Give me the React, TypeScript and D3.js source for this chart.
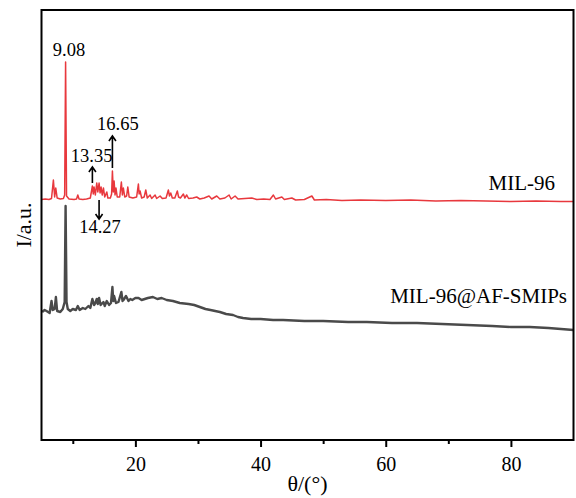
import React, { useRef, useEffect } from 'react'
import * as d3 from 'd3'

// MIL-96 pattern, [2θ, intensity] (baseline ~0), drawn shifted up by redOffset
const redOffset = 240
const mil96: [number, number][] = [
  [5.0, 0.5], [5.6, 1], [6.2, 0.5], [6.6, 1.5], [6.9, 20], [7.1, 3], [7.28, 12], [7.5, 2],
  [8.0, 1], [8.5, 1.5], [8.7, 5], [8.85, 138], [9.0, 4], [9.4, 1], [10.2, 0.5], [10.6, 1],
  [10.8, 5], [11.0, 1], [11.6, 0.5], [12.2, 1], [12.8, 2], [13.13, 14], [13.27, 6], [13.4, 13],
  [13.6, 5], [13.83, 17], [14.0, 8], [14.2, 17], [14.36, 7], [14.52, 13], [14.7, 5], [14.9, 12],
  [15.1, 3], [15.43, 8], [15.6, 2], [16.0, 2], [16.2, 6], [16.33, 29], [16.47, 8], [16.6, 19],
  [16.75, 5], [16.9, 12], [17.1, 3], [17.5, 3], [17.76, 18], [17.92, 5], [18.08, 12], [18.3, 3],
  [18.6, 4], [18.79, 13], [19.0, 3], [19.6, 2], [20.2, 3], [20.48, 16], [20.6, 6], [20.75, 9],
  [21.0, 2], [21.4, 3], [21.66, 10], [21.9, 2], [22.35, 5], [22.6, 1.5], [23.15, 5], [23.4, 1.5],
  [23.95, 4], [24.3, 1.5], [24.9, 2], [25.27, 10], [25.45, 4], [25.65, 7], [25.9, 2], [26.3, 2],
  [26.7, 9], [26.9, 3], [27.2, 2], [27.67, 6], [27.9, 2], [28.2, 5], [28.5, 1.5], [29.2, 2],
  [29.8, 3], [30.3, 1], [31.0, 2], [31.77, 4], [32.2, 1], [33.0, 4], [33.5, 1], [34.3, 2],
  [34.97, 5], [35.3, 1], [35.93, 4], [36.4, 1], [37.5, 1.5], [38.6, 2], [39.4, 0.5], [40.5, 1],
  [41.5, 0.5], [42.05, 5], [42.4, 1], [43.4, 3], [43.8, 0.5], [45.0, 2], [45.6, 0], [47.0, 0.5],
  [48.2, 4], [48.6, 0], [50.5, 0.5], [53.0, -0.5], [56.0, 0], [60.0, -0.5], [64.0, 0],
  [68.0, -1], [72.0, -0.5], [76.0, -1], [80.0, -1.5], [84.0, -1], [88.0, -1.5], [90.0, -1.5],
]

// MIL-96@AF-SMIPs pattern, [2θ, intensity]
const smips: [number, number][] = [
  [5.1, 128], [5.5, 130], [5.8, 129], [6.3, 127], [6.6, 139], [6.8, 130], [7.1, 131], [7.3, 143],
  [7.5, 129], [8.0, 128], [8.4, 131], [8.7, 138], [8.85, 234], [9.0, 138], [9.2, 131], [9.6, 129],
  [10.0, 131], [10.5, 130], [10.8, 134], [11.1, 130], [11.6, 132], [12.0, 131], [12.5, 134],
  [12.8, 132], [13.13, 141], [13.4, 135], [13.6, 137], [13.83, 141], [14.0, 136], [14.2, 142],
  [14.45, 135], [14.9, 138], [15.1, 134], [15.43, 139], [15.8, 135], [16.1, 137], [16.33, 153],
  [16.47, 139], [16.6, 144], [16.9, 137], [17.3, 138], [17.76, 148], [17.95, 139], [18.1, 140],
  [18.5, 144], [18.9, 139], [19.2, 141], [19.5, 140], [20.0, 142], [20.5, 142], [21.0, 140],
  [21.5, 141], [22.0, 142], [22.8, 143], [23.5, 141], [24.2, 142], [25.0, 140], [26.0, 139],
  [27.1, 137], [28.5, 136], [29.4, 135], [30.3, 133], [31.2, 131], [32.0, 130], [33.5, 128],
  [34.5, 126], [35.6, 125], [36.4, 123], [37.2, 122], [38.5, 121], [40.0, 121], [42.0, 120],
  [43.6, 120], [47.0, 119], [50.0, 119], [54.0, 118], [57.0, 118], [61.0, 117], [65.0, 117],
  [69.0, 116], [73.0, 115], [77.0, 114], [80.0, 113], [83.0, 113], [86.0, 112], [90.0, 110],
]

const majorTicks = [20, 40, 60, 80]
const minorTicks = [10, 30, 50, 70]

// peak annotations: label, arrow x, arrow from/to (MIL-96 intensity), text x, text y
const notes = [
  { label: '9.08', x: 8.85, from: null, to: null, tx: 9.4, ty: 144 },
  { label: '13.35', x: 13.13, from: 17, to: 33, tx: 13.0, ty: 38 },
  { label: '16.65', x: 16.33, from: 32, to: 64, tx: 17.2, ty: 70 },
  { label: '14.27', x: 14.2, from: 0, to: -19, tx: 14.35, ty: -33 },
]

export default function App() {
  const ref = useRef<SVGSVGElement>(null)
  const W = 576
  const H = 498
  const m = { left: 41.5, right: 2.5, top: 10, bottom: 58 }
  const font = '"Liberation Serif", "Times New Roman", serif'

  useEffect(() => {
    const svg = d3.select(ref.current)
    svg.selectAll('*').remove()

    const x = d3.scaleLinear().domain([5, 90]).range([m.left, W - m.right])
    const y = d3.scaleLinear().domain([0, 430]).range([H - m.bottom, m.top])

    const line = d3.line<[number, number]>()
      .x(d => x(d[0]))
      .y(d => y(d[1]))

    svg.append('path')
      .datum(smips)
      .attr('d', line)
      .attr('fill', 'none')
      .attr('stroke', '#4a4a4a')
      .attr('stroke-width', 2.4)
      .attr('stroke-linejoin', 'round')

    svg.append('path')
      .datum(mil96.map(d => [d[0], d[1] + redOffset] as [number, number]))
      .attr('d', line)
      .attr('fill', 'none')
      .attr('stroke', '#e8383d')
      .attr('stroke-width', 1.5)
      .attr('stroke-linejoin', 'round')

    // frame
    svg.append('rect')
      .attr('x', m.left)
      .attr('y', m.top)
      .attr('width', W - m.right - m.left)
      .attr('height', H - m.bottom - m.top)
      .attr('fill', 'none')
      .attr('stroke', '#000')
      .attr('stroke-width', 2)

    const gx = svg.append('g')
      .attr('transform', `translate(0,${H - m.bottom})`)
      .attr('font-family', font)
      .call(d3.axisBottom(x).tickValues(majorTicks).tickSizeInner(7).tickSizeOuter(0).tickPadding(10).tickFormat(d3.format('d')))
    gx.select('.domain').remove()
    gx.selectAll('line').attr('stroke-width', 2)
    gx.selectAll('text')
      .attr('font-family', font)
      .style('font-family', font)
      .style('font-size', '20px')
      .attr('fill', '#000')

    const gm = svg.append('g')
      .attr('transform', `translate(0,${H - m.bottom})`)
      .call(d3.axisBottom(x).tickValues(minorTicks).tickSize(4).tickFormat(() => ''))
    gm.select('.domain').remove()
    gm.selectAll('line').attr('stroke-width', 2)

    svg.append('text')
      .attr('x', (m.left + W - m.right) / 2)
      .attr('y', 491)
      .attr('text-anchor', 'middle')
      .style('font-family', font)
      .style('font-size', '22px')
      .text('θ/(°)')

    svg.append('text')
      .attr('transform', `translate(31,${(m.top + H - m.bottom) / 2}) rotate(-90)`)
      .attr('text-anchor', 'middle')
      .style('font-family', font)
      .style('font-size', '22px')
      .text('I/a.u.')

    // series labels
    svg.append('text')
      .attr('x', 555)
      .attr('y', y(redOffset + 10))
      .attr('text-anchor', 'end')
      .style('font-family', font)
      .style('font-size', '21px')
      .text('MIL-96')

    svg.append('text')
      .attr('x', 567)
      .attr('y', y(smips[smips.length - 1][1] + 27))
      .attr('text-anchor', 'end')
      .style('font-family', font)
      .style('font-size', '21px')
      .text('MIL-96@AF-SMIPs')

    // peak notes
    notes.forEach(n => {
      if (n.from !== null && n.to !== null) {
        const ax = x(n.x)
        const y0 = y(n.from + redOffset)
        const y1 = y(n.to + redOffset)
        const dir = y1 < y0 ? 1 : -1
        svg.append('path')
          .attr('d', `M${ax},${y0}V${y1}M${ax - 3.5},${y1 + dir * 5}L${ax},${y1}L${ax + 3.5},${y1 + dir * 5}`)
          .attr('fill', 'none')
          .attr('stroke', '#000')
          .attr('stroke-width', 1.6)
      }
      svg.append('text')
        .attr('x', x(n.tx))
        .attr('y', y(n.ty + redOffset))
        .attr('text-anchor', 'middle')
        .style('font-family', font)
        .style('font-size', '18.5px')
        .text(n.label)
    })
  }, [])

  return (
    <div>
      <svg ref={ref} width={W} height={H}
        style={{ position: 'absolute', left: 0, top: 0, background: '#fff' }} />
    </div>
  )
}
